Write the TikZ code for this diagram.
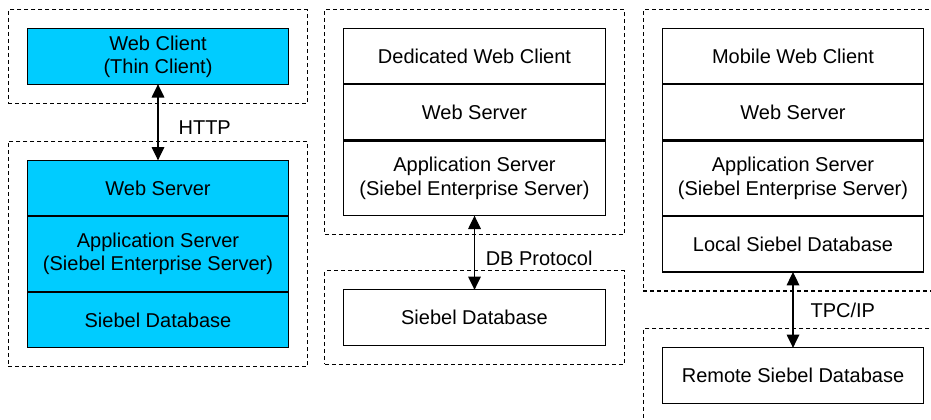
\documentclass[tikz,border=0pt]{standalone}
\usepackage{fontspec}
\setmainfont{Liberation Sans}
\usetikzlibrary{arrows.meta,fit,positioning}
\definecolor{tiercyan}{RGB}{0,204,255}

\begin{document}
\begin{tikzpicture}[
  x=.75pt,y=-.75pt,
  font=\fontsize{15}{17.5}\selectfont,
  layer/.style={draw,line width=.9pt,align=center,inner sep=0pt,outer sep=0pt,minimum width=196pt,minimum height=41.5pt},
  tall/.style={layer,minimum height=56pt},
  thin/.style={fill=tiercyan},
  zone/.style={draw,line width=.9pt,dash pattern=on 3pt off 2.25pt,inner sep=14.25pt},
  link/.style={{Triangle[length=10pt,width=9.5pt]}-{Triangle[length=10pt,width=9.5pt]},line width=.9pt},
  lbl/.style={inner sep=0pt}
]
\path[use as bounding box,clip] (0,0) rectangle (931,419);

% thin client
\node[layer,thin] (wc) at (158,56.5) {Web Client\\(Thin Client)};
\node[layer,thin] (ws1) at (158,188) {Web Server};
\node[tall,thin,below=.75pt of ws1] (as1) {Application Server\\(Siebel Enterprise Server)};
\node[layer,thin,below=.75pt of as1] (db1) {Siebel Database};
\node[zone,fit=(wc)] (z1a) {};
\node[zone,fit=(ws1)(db1)] (z1b) {};
\draw[link] (wc) -- node[lbl,right=15pt,yshift=-3.75pt] {HTTP} (ws1);

% dedicated client
\node[layer] (dwc) at (474.5,56) {Dedicated Web Client};
\node[layer,below=.75pt of dwc] (ws2) {Web Server};
\node[tall,below=.75pt of ws2] (as2) {Application Server\\(Siebel Enterprise Server)};
\node[layer] (db2) at (474.5,317.5) {Siebel Database};
\node[zone,fit=(dwc)(as2)] (z2a) {};
\node[zone,fit=(db2)] (z2b) {};
\draw[link] (as2) -- node[lbl,right=8pt,yshift=-4.5pt] {DB Protocol} (db2);

% mobile client
\node[layer] (mwc) at (793,56) {Mobile Web Client};
\node[layer,below=.75pt of mwc] (ws3) {Web Server};
\node[tall,below=.75pt of ws3] (as3) {Application Server\\(Siebel Enterprise Server)};
\node[layer,below=.75pt of as3] (ldb) {Local Siebel Database};
\node[layer] (rdb) at (793,375.5) {Remote Siebel Database};
\node[zone,fit=(mwc)(ldb)] (z3a) {};
\node[zone,fit=(rdb)] (z3b) {};
\draw[link] (ldb) -- node[lbl,right=12.75pt] {TPC/IP} (rdb);
\end{tikzpicture}
\end{document}
